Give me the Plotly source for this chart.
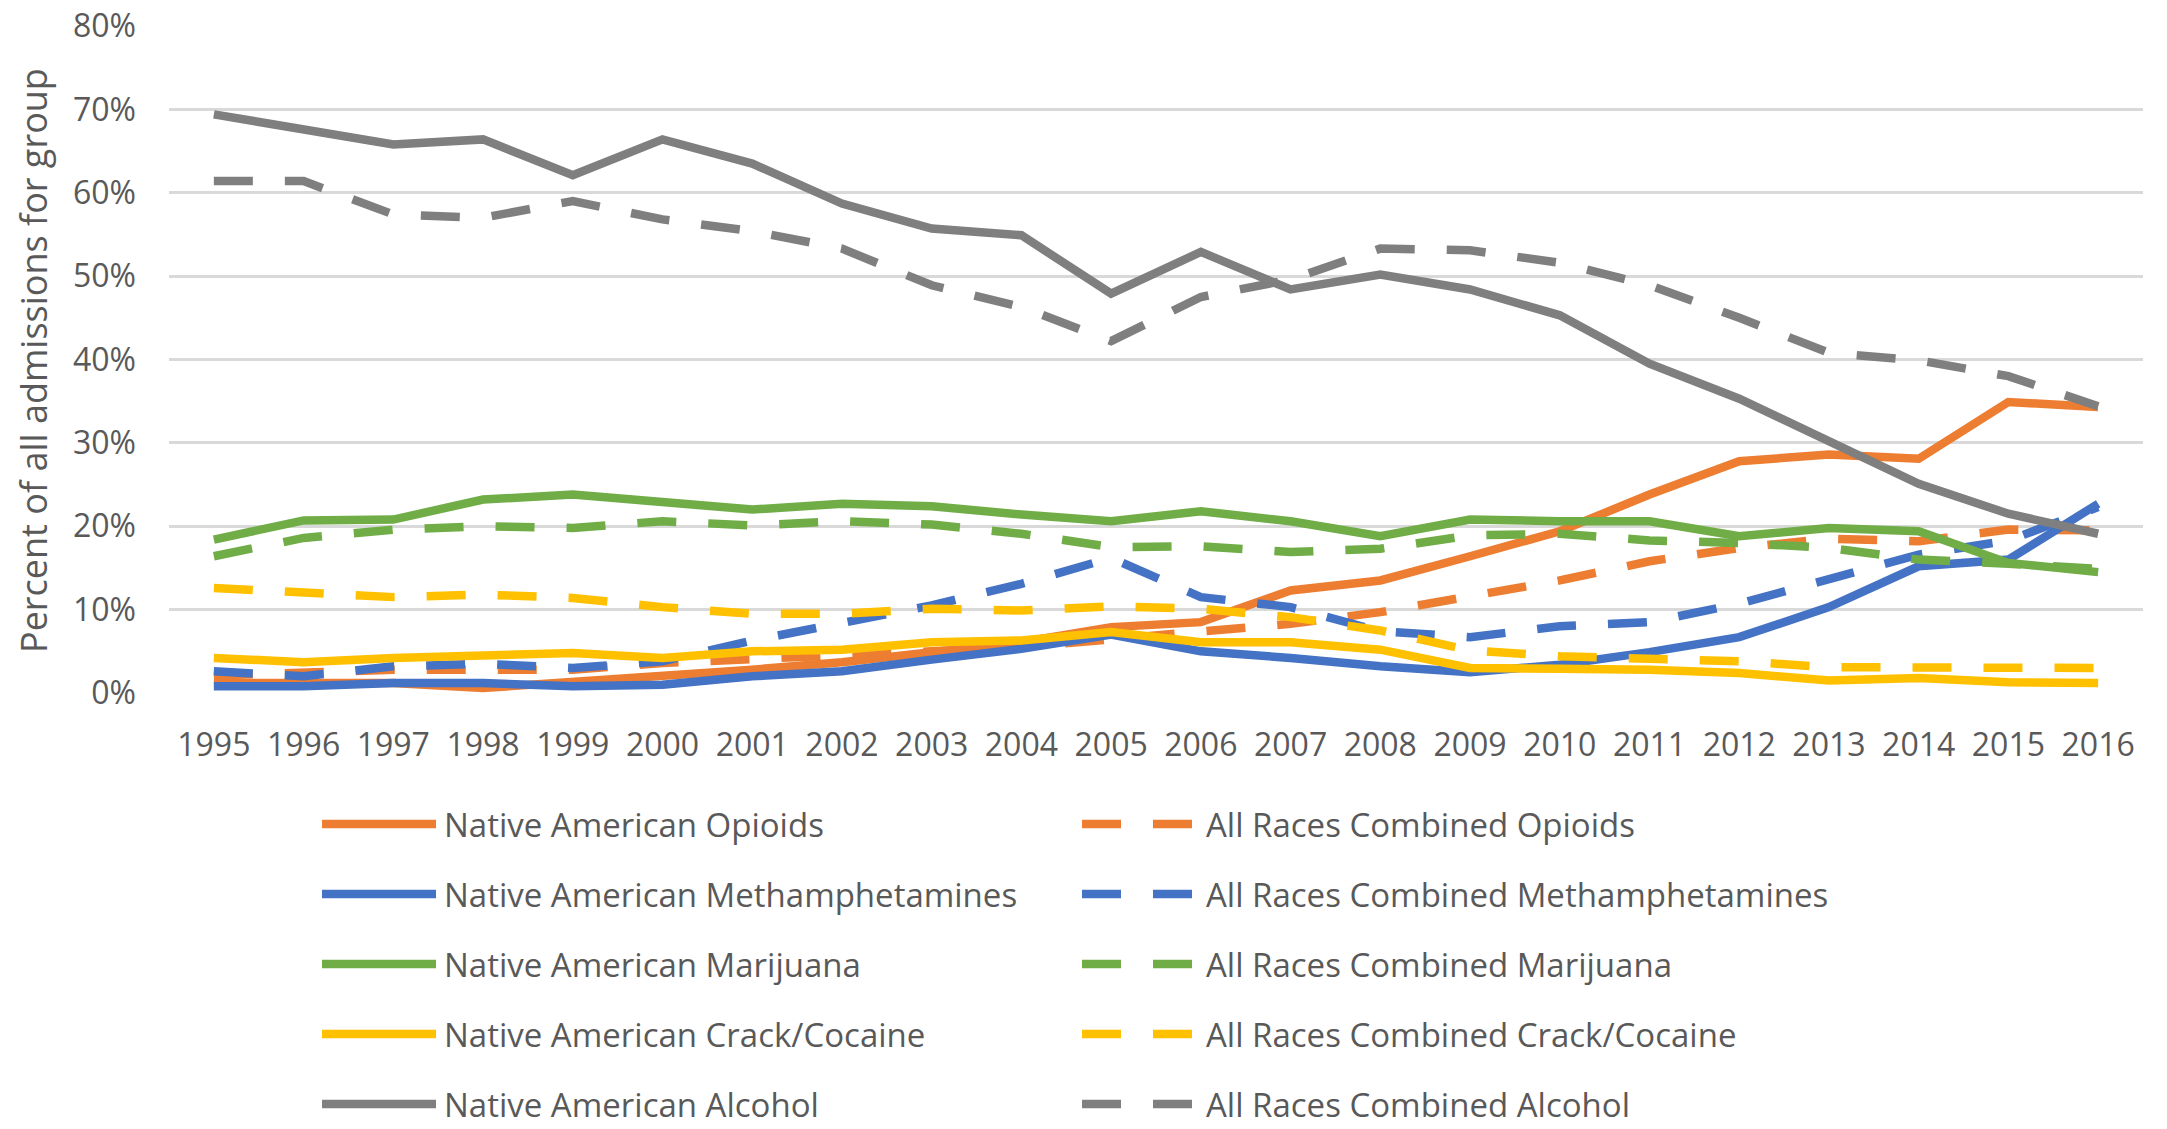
import plotly.graph_objects as go

# Treatment admissions by primary substance, share of all admissions (%)
years = list(range(1995, 2017))
tick_values = [0, 10, 20, 30, 40, 50, 60, 70, 80]
tick_labels = ["0%", "10%", "20%", "30%", "40%", "50%", "60%", "70%", "80%"]

na_opioids = [1.2, 1.3, 1.2, 0.6, 1.3, 1.9, 2.8, 3.7, 4.8, 6.1, 7.9, 8.5, 12.3, 13.5, 16.4, 19.4, 23.8, 27.8, 28.6, 28.1, 34.9, 34.3]
all_opioids = [2.1, 2.4, 2.8, 2.8, 2.8, 3.6, 4.0, 4.4, 5.0, 5.5, 6.5, 7.3, 8.3, 9.7, 11.7, 13.5, 15.8, 17.4, 18.5, 18.2, 19.6, 19.5]
na_meth = [0.8, 0.8, 1.2, 1.2, 0.8, 1.0, 2.0, 2.6, 4.0, 5.3, 7.0, 5.0, 4.2, 3.2, 2.5, 3.4, 4.9, 6.7, 10.3, 15.2, 16.0, 22.7]
all_meth = [2.6, 2.0, 3.2, 3.5, 3.0, 3.8, 6.3, 8.5, 10.5, 13.1, 16.2, 11.5, 10.3, 7.4, 6.7, 8.0, 8.5, 10.7, 13.7, 16.6, 18.3, 22.3]
na_marijuana = [18.4, 20.7, 20.8, 23.2, 23.8, 23.0, 22.0, 22.7, 22.4, 21.4, 20.6, 21.8, 20.6, 18.8, 20.8, 20.6, 20.6, 18.8, 19.8, 19.4, 15.6, 14.5]
all_marijuana = [16.4, 18.6, 19.6, 20.0, 19.8, 20.6, 20.1, 20.6, 20.2, 19.1, 17.5, 17.6, 16.9, 17.3, 18.9, 19.1, 18.3, 18.0, 17.4, 16.0, 15.5, 14.9]
na_cocaine = [4.2, 3.7, 4.2, 4.6, 4.8, 4.2, 5.0, 5.2, 6.1, 6.3, 7.3, 6.1, 6.1, 5.2, 3.0, 2.9, 2.8, 2.4, 1.5, 1.8, 1.3, 1.2]
all_cocaine = [12.6, 12.0, 11.5, 11.8, 11.4, 10.3, 9.5, 9.5, 10.1, 9.9, 10.4, 10.1, 9.1, 7.5, 5.1, 4.4, 4.2, 3.8, 3.1, 3.0, 3.0, 3.0]
na_alcohol = [69.4, 67.6, 65.8, 66.4, 62.1, 66.4, 63.5, 58.7, 55.7, 54.9, 47.9, 52.9, 48.4, 50.2, 48.4, 45.3, 39.5, 35.3, 30.1, 25.1, 21.5, 19.1]
all_alcohol = [61.4, 61.4, 57.4, 57.0, 59.0, 56.8, 55.4, 53.3, 48.9, 46.3, 42.2, 47.5, 49.6, 53.3, 53.1, 51.6, 48.9, 45.0, 40.8, 39.9, 38.0, 34.4]

series = [
    ("Native American Opioids", na_opioids, "#ED7D31", "solid"),
    ("All Races Combined Opioids", all_opioids, "#ED7D31", "dash"),
    ("Native American Methamphetamines", na_meth, "#4472C4", "solid"),
    ("All Races Combined Methamphetamines", all_meth, "#4472C4", "dash"),
    ("Native American Marijuana", na_marijuana, "#70AD47", "solid"),
    ("All Races Combined Marijuana", all_marijuana, "#70AD47", "dash"),
    ("Native American Crack/Cocaine", na_cocaine, "#FFC000", "solid"),
    ("All Races Combined Crack/Cocaine", all_cocaine, "#FFC000", "dash"),
    ("Native American Alcohol", na_alcohol, "#7F7F7F", "solid"),
    ("All Races Combined Alcohol", all_alcohol, "#7F7F7F", "dash"),
]

W, H = 2167, 1129
ML, MR, MT, MB = 169, 24, 26, 436
PW, PH = W - ML - MR, H - MT - MB
FONT = "Open Sans, Noto Sans, sans-serif"
TEXT = "#595959"
LW = 8.5
DASH = "39px,32px"


def px_x(px):
    return (px - ML) / PW


def px_y(py):
    return (H - MB - py) / PH


fig = go.Figure()
for name, vals, color, style in series:
    fig.add_trace(go.Scatter(
        x=years, y=vals, mode="lines", name=name,
        line=dict(color=color, width=LW, dash=DASH if style == "dash" else "solid"),
        showlegend=False,
    ))

# Two-column legend below the plot: Native American (left), All Races (right)
rows_y = [824, 894, 964, 1034, 1104]
shapes = []
annotations = []
for i, (name, vals, color, style) in enumerate(series):
    row, col = i // 2, i % 2
    y = px_y(rows_y[row])
    if col == 0:
        x0, x1, tx = 322, 436, 442
    else:
        x0, x1, tx = 1082, 1193, 1204
    shapes.append(dict(
        type="line", xref="paper", yref="paper",
        x0=px_x(x0), x1=px_x(x1), y0=y, y1=y,
        line=dict(color=color, width=LW, dash=DASH if style == "dash" else "solid"),
    ))
    annotations.append(dict(
        xref="paper", yref="paper", x=px_x(tx), y=y,
        xanchor="left", yanchor="middle", showarrow=False,
        text=name, font=dict(family=FONT, size=33, color=TEXT),
    ))

annotations.append(dict(
    xref="paper", yref="paper", x=px_x(33), y=px_y(361),
    xanchor="center", yanchor="middle", showarrow=False, textangle=-90,
    text="Percent of all admissions for group",
    font=dict(family=FONT, size=36, color=TEXT),
))

fig.update_layout(
    width=W, height=H,
    margin=dict(l=ML, r=MR, t=MT, b=MB, autoexpand=False),
    paper_bgcolor="white", plot_bgcolor="white",
    font=dict(family=FONT, size=32, color=TEXT),
    shapes=shapes, annotations=annotations,
    showlegend=False,
)
fig.update_xaxes(
    range=[1994.5, 2016.5], tickmode="array", tickvals=years,
    ticktext=[str(y) for y in years], showgrid=False, zeroline=False,
    showline=False, ticks="", ticklabelstandoff=30, automargin=False,
    tickfont=dict(family=FONT, size=32, color=TEXT), fixedrange=True,
)
fig.update_yaxes(
    range=[0, 80], tickmode="array", tickvals=tick_values, ticktext=tick_labels,
    showgrid=True, gridcolor="#D9D9D9", gridwidth=2.5, zeroline=False,
    showline=False, ticks="", ticklabelstandoff=32, automargin=False,
    tickfont=dict(family=FONT, size=32, color=TEXT), fixedrange=True,
)

# Keep the fixed-size figure flush with the page edges
fig.write_html(
    "out.html",
    post_script="document.body.style.margin='0px';document.body.style.overflow='hidden';",
)
